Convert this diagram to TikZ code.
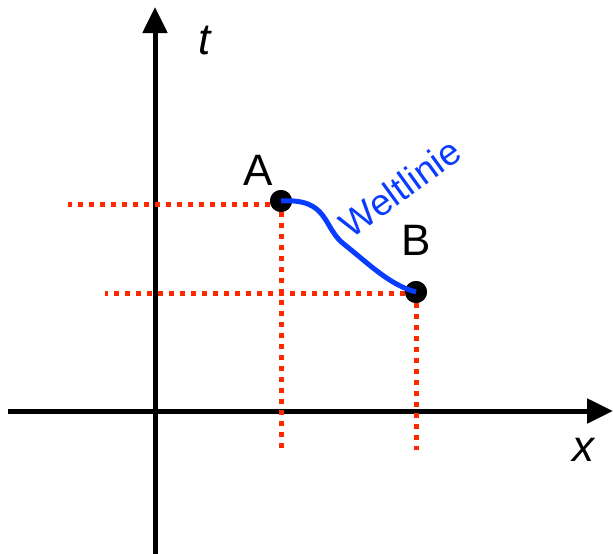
\documentclass[tikz,border=0pt]{standalone}
\usepackage{fontspec}
\setmainfont{Liberation Sans}
\usetikzlibrary{arrows.meta}
\definecolor{guide}{RGB}{255,40,0}
\definecolor{wline}{RGB}{10,60,255}
\tikzset{
  axis/.style={line width=5pt,-{Triangle[length=26pt,width=24pt]}},
  guideline/.style={guide,line width=5pt,dash pattern=on 5pt off 6pt},
  event/.style={circle,fill=black,inner sep=0pt,minimum size=22pt},
  lbl/.style={font=\fontsize{44}{44}\selectfont},
}
\begin{document}
\begin{tikzpicture}[x=1pt,y=-1pt]
\useasboundingbox (0,0) rectangle (613,554);
% axes
\coordinate (y0) at (155,554);
\coordinate (y1) at (155,7);
\coordinate (x0) at (8,411);
\coordinate (x1) at (613,411);
\draw[axis] (y0) -- (y1);
\draw[axis] (x0) -- (x1);
% events
\node[event] (A) at (281,201) {};
\node[event] (B) at (416,292) {};
\coordinate (ah) at (68,204);
\coordinate (ae) at (281,204);
\coordinate (av) at (281,450);
\coordinate (bh) at (105,293);
\coordinate (be) at (416,293);
\coordinate (bv) at (416,450);
\draw[guideline] (ae) -- (ah);
\draw[guideline] (A.center) -- (av);
\draw[guideline] (be) -- (bh);
\draw[guideline] (B.center) -- (bv);
\node[event] at (A) {};
\node[event] at (B) {};
% world line
\draw[wline,line width=5pt] (A.center) .. controls (330,198) and (322,228) .. (345,245)
  .. controls (370,265) and (390,285) .. (B.center);
\node[wline,font=\fontsize{37}{37}\selectfont,rotate=36] (wl) at (400,188) {Weltlinie};
% labels
\node[lbl] (lA) at (258,170) {A};
\node[lbl] (lB) at (416,240) {B};
\node[lbl,font=\fontsize{44}{44}\selectfont\itshape] (lt) at (205,40) {t};
\node[lbl,font=\fontsize{44}{44}\selectfont\itshape] (lx) at (583,450) {x};
\end{tikzpicture}
\end{document}
